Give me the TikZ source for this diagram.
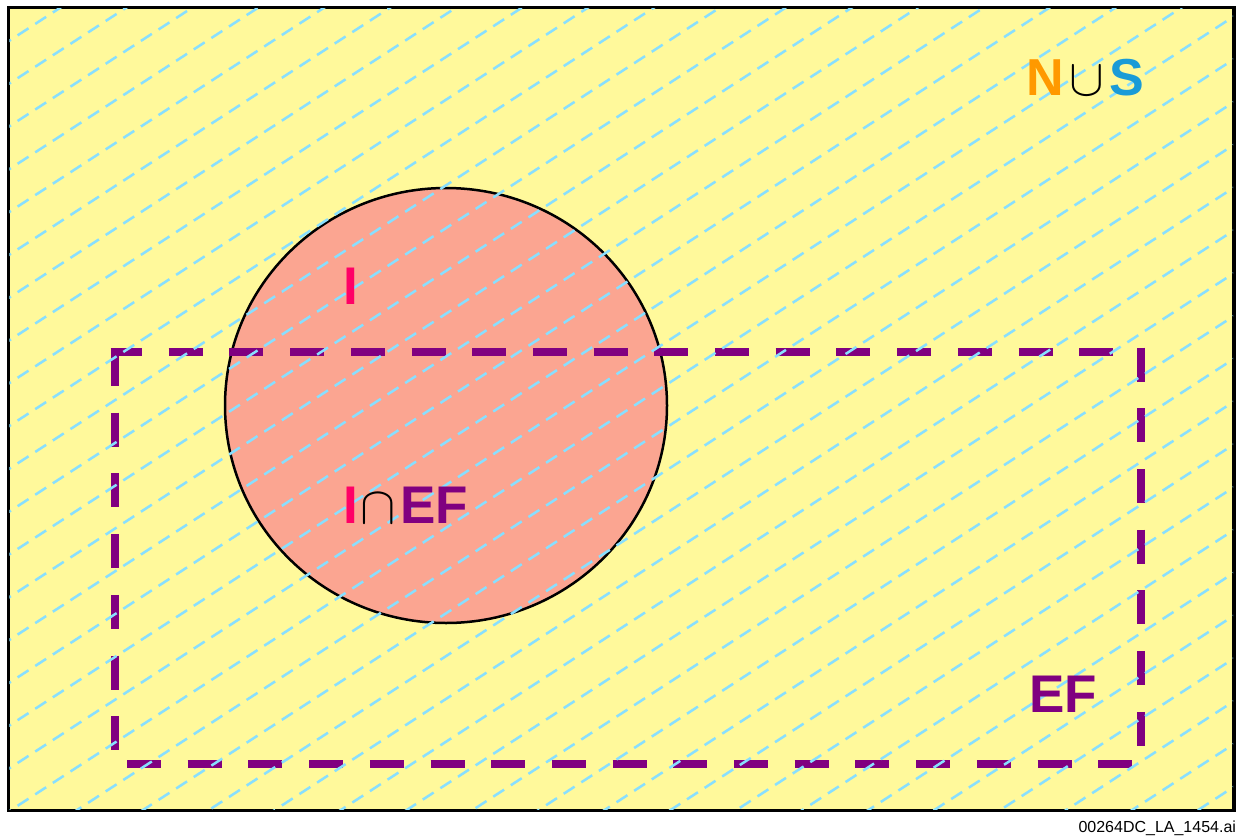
\documentclass[tikz,border=0pt]{standalone}
\usepackage{fix-cm}
\usepackage{fontspec}
\setmainfont{Liberation Sans}
\usepackage{tikz}
\usetikzlibrary{positioning}
\definecolor{PaleYellow}{HTML}{FFF99B}
\definecolor{HatchCyan}{HTML}{88DFFF}
\definecolor{SalmonFill}{HTML}{FBA591}
\definecolor{SetPurple}{HTML}{800080}
\definecolor{SetPink}{HTML}{FF0066}
\definecolor{SetOrange}{HTML}{FF9900}
\definecolor{SetBlue}{HTML}{1A9BD7}

\begin{document}
\begin{tikzpicture}[x=0.5pt,y=-0.5pt,
    every node/.style={inner sep=0pt,outer sep=0pt},
    setlabel/.style={font=\fontsize{26.5}{30}\selectfont\bfseries,anchor=base west},
    efedge/.style={SetPurple,line width=4.4pt,dash pattern=on 17pt off 13.35pt},
    hatchline/.style={HatchCyan,line width=1.25pt,dash pattern=on 6.5pt off 4pt}]
  \useasboundingbox (0,0) rectangle (1236,835);
  \draw[line width=1.6pt,fill=PaleYellow] (8.5,7.5) rectangle (1234,810.5);
  \draw[line width=1.25pt,fill=SalmonFill] (446,405.5) ellipse [x radius=221,y radius=217.5];
  \draw[efedge] (115,352) -- (115,764);
  \draw[efedge,dash phase=1.3pt] (110.6,352) -- (1141,352);
  \draw[efedge] (1141,347.6) -- (1141,764);
  \draw[efedge] (127,764) -- (1141,764);
  \begin{scope}
    \clip (9.3,8.3) rectangle (1233.2,809.7);
    \foreach \k in {0,...,39}
      \draw[hatchline] (0,4+42.8*\k) -- (1236,4+42.8*\k-802.2);
  \end{scope}
  \node[setlabel,font=\fontsize{26}{30}\selectfont\bfseries] (nus) at (1026,95)
    {\textcolor{SetOrange}{N}\kern3pt$\cup$\kern2.5pt\textcolor{SetBlue}{S}};
  \node[setlabel] (ilabel) at (343.5,304) {\textcolor{SetPink}{I}};
  \node[setlabel] (iefl) at (343.5,523)
    {\textcolor{SetPink}{I}\kern1pt$\cap$\kern2.5pt\textcolor{SetPurple}{EF}};
  \node[setlabel] (eflabel) at (1029,712) {\textcolor{SetPurple}{EF}};
  \node[font=\fontsize{8}{9}\selectfont,anchor=base east] (fileid) at (1236,832)
    {00264DC\_LA\_1454.ai};
\end{tikzpicture}
\end{document}
